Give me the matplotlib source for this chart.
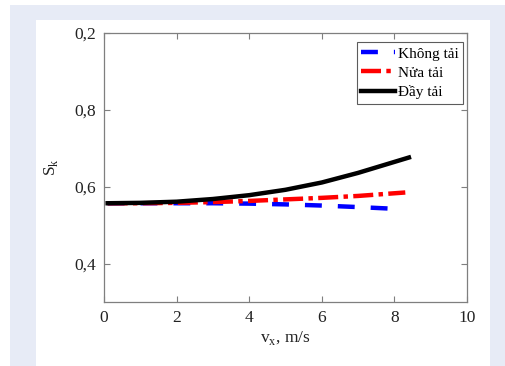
import matplotlib.pyplot as plt
import matplotlib.patches as mpatches

plt.rcParams['font.family'] = ['Liberation Serif', 'DejaVu Serif']

# speed v_x (m/s) and S_k for three load cases
v_khong = [0.1, 1.0, 2.0, 3.0, 4.0, 5.0, 6.0, 7.0, 7.9]
s_khong = [0.557, 0.557, 0.557, 0.557, 0.556, 0.554, 0.551, 0.547, 0.543]

v_nua = [0.1, 1.0, 2.0, 3.0, 4.0, 5.0, 6.0, 7.0, 8.3]
s_nua = [0.557, 0.557, 0.558, 0.560, 0.563, 0.567, 0.571, 0.576, 0.585]

v_day = [0.1, 1.0, 2.0, 3.0, 4.0, 5.0, 6.0, 7.0, 8.4]
s_day = [0.557, 0.558, 0.561, 0.568, 0.578, 0.592, 0.611, 0.636, 0.676]

labels = ['Không tải', 'Nửa tải', 'Đầy tải']
yticks = [0.4, 0.6, 0.8, 1.0]
yticklabels = ['0,4', '0,6', '0,8', '0,2']
xticks = [0, 2, 4, 6, 8, 10]

W, H = 506, 366
fig = plt.figure(figsize=(W / 100, H / 100), dpi=100)
fig.patch.set_facecolor('white')

# grey page frame around the white panel (pixel units, y downwards)
bg = fig.add_axes([0, 0, 1, 1], zorder=-5)
bg.set_xlim(0, W)
bg.set_ylim(H, 0)
bg.axis('off')
grey = '#e7ebf6'
for x0, y0, w, h in [(10, 5, 26, H), (490, 5, 16, H), (10, 5, W - 10, 15)]:
    bg.add_patch(mpatches.Rectangle((x0, y0), w, h, facecolor=grey, edgecolor='none'))

ax = fig.add_axes([104 / W, 1 - 302 / H, 363 / W, 269 / H])
ax.set_facecolor('white')

ax.plot(v_khong, s_khong, color='#0000ff', lw=3.2, dashes=(3.8, 3.6), label=labels[0])
ax.plot(v_nua, s_nua, color='#ff0000', lw=3.2, dashes=(4.5, 1.2, 1.0, 1.2), label=labels[1])
ax.plot(v_day, s_day, color='black', lw=3.2, label=labels[2])

ax.set_xlim(0, 10)
ax.set_ylim(0.3, 1.0)
ax.set_xticks(xticks)
ax.set_xticklabels([str(t) for t in xticks])
ax.set_yticks(yticks)
ax.set_yticklabels(yticklabels)

for sp in ax.spines.values():
    sp.set_color('#7f7f7f')
    sp.set_linewidth(0.9)
ax.tick_params(direction='in', length=4, width=0.8, color='#7f7f7f',
               top=True, right=True, labelsize=12.5, labelcolor='#222222', pad=6)

ax.set_xlabel(r'v$_\mathregular{x}$, m/s', fontsize=12.5, color='#222222', labelpad=2)
ax.set_ylabel(r'S$_\mathregular{k}$', fontsize=12.5, color='#222222', labelpad=10)

leg = ax.legend(loc='upper right', fontsize=11, frameon=True, fancybox=False,
                edgecolor='#333333', handlelength=2.2, handletextpad=0.2,
                borderpad=0.3, labelspacing=0.35, borderaxespad=0.0,
                bbox_to_anchor=(0.99, 0.965))
leg.get_frame().set_linewidth(0.8)

fig.savefig('out.png', dpi=100)
